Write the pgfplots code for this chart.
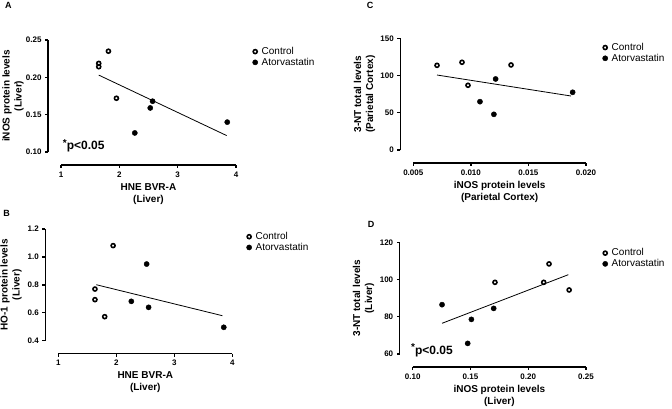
\documentclass[border=0pt]{standalone}
\usepackage{fontspec}
\setmainfont{Liberation Sans}
\usepackage{pgfplots}
\pgfplotsset{compat=1.18}
\pgfplotsset{
  prism/.style={
    scale only axis,
    axis x line=bottom, axis y line=left,
    axis line style={draw=none},
    axis x line shift=13pt,
    axis y line shift=13pt,
    major tick length=0pt,
    minor tick num=0,
    scaled ticks=false,
    tick label style={font=\fontsize{8}{9}\selectfont\bfseries},
    xticklabel style={yshift=-3pt},
    yticklabel style={xshift=-3pt},
    /pgf/number format/assume math mode=true,
    label style={font=\fontsize{10}{12}\selectfont\bfseries, align=center},
    xlabel style={at={(axis description cs:0.5,-0.375)}, anchor=center},
    clip=false,
    legend image code/.code={\path[draw=none,fill=none] (0pt,0pt) -- (9.5pt,0pt); \draw[mark repeat=1,##1] plot coordinates {(5pt,0pt)};},
    legend style={draw=none, fill=none, inner sep=0pt, anchor=north west, row sep=-2pt,
      font=\fontsize{10}{12}\selectfont, cells={anchor=west}},
  },
  ctrl/.style={only marks, mark=o, mark size=2pt, mark options={line width=1.6pt}, black},
  ator/.style={only marks, mark=*, mark size=2.6pt, black},
  fitl/.style={no marks, black, line width=0.8pt, forget plot},
  axl/.style={no marks, black, line width=1.3pt, forget plot},
}
\begin{document}
\begin{tikzpicture}[x=1pt,y=1pt]
\useasboundingbox (0,0) rectangle (672,408);
% Panel A
\begin{axis}[prism, at={(61pt,256pt)}, anchor=south west, width=175pt, height=112pt,
  xmin=1, xmax=4, ymin=0.10, ymax=0.25, xtick={1,2,3,4}, ytick={0.10,0.15,0.20,0.25},
  yticklabel style={/pgf/number format/fixed, /pgf/number format/fixed zerofill, /pgf/number format/precision=2},
  xlabel={HNE BVR-A\\(Liver)}, ylabel={iNOS protein levels\\(Liver)},
  ylabel style={at={(axis description cs:-0.274,0.5)}, anchor=center},
  legend style={at={(1.08,0.955)}}]
\addplot[ctrl] coordinates {(1.647,0.2187) (1.647,0.2142) (1.813,0.235) (1.95,0.172)};
\addplot[ator] coordinates {(2.57,0.168) (2.53,0.159) (2.265,0.1255) (3.85,0.140)};
\addplot[fitl] coordinates {(1.647,0.203) (3.84,0.122)};
\legend{Control,Atorvastatin}
\addplot[axl] coordinates {(1,0.082589) (4,0.082589)};
\addplot[axl] coordinates {(0.77714,0.10) (0.77714,0.25)};
\pgfplotsinvokeforeach{1,2,3,4}{\addplot[axl] coordinates {(#1,0.082589) (#1,0.078571)};}
\pgfplotsinvokeforeach{0.10,0.15,0.20,0.25}{\addplot[axl] coordinates {(0.77714,#1) (0.72571,#1)};}
\node[anchor=base west, font=\bfseries\fontsize{12}{12}\selectfont, inner sep=0pt] at (axis cs:1.03,0.1027) {\raisebox{0.3em}{\fontsize{10}{10}\selectfont *}p<0.05};
\end{axis}
% Panel B
\begin{axis}[prism, at={(58.3pt,67.3pt)}, anchor=south west, width=174pt, height=111.7pt,
  xmin=1, xmax=4, ymin=0.4, ymax=1.2, xtick={1,2,3,4}, ytick={0.4,0.6,0.8,1.0,1.2},
  yticklabel style={/pgf/number format/fixed, /pgf/number format/fixed zerofill, /pgf/number format/precision=1},
  xlabel={HNE BVR-A\\(Liver)}, ylabel={HO-1 protein levels\\(Liver)},
  ylabel style={at={(axis description cs:-0.272,0.5)}, anchor=center},
  legend style={at={(1.067,0.99)}}]
\addplot[ctrl] coordinates {(1.632,0.770) (1.632,0.694) (1.80,0.572) (1.945,1.081)};
\addplot[ator] coordinates {(2.523,0.949) (2.259,0.682) (2.557,0.639) (3.853,0.496)};
\addplot[fitl] coordinates {(1.655,0.801) (3.83,0.579)};
\legend{Control,Atorvastatin}
\addplot[axl] coordinates {(1,0.30689) (4,0.30689)};
\addplot[axl] coordinates {(0.77586,0.4) (0.77586,1.2)};
\pgfplotsinvokeforeach{1,2,3,4}{\addplot[axl] coordinates {(#1,0.30689) (#1,0.28541)};}
\pgfplotsinvokeforeach{0.4,0.6,0.8,1.0,1.2}{\addplot[axl] coordinates {(0.77586,#1) (0.72414,#1)};}
\end{axis}
% Panel C
\begin{axis}[prism, at={(413.3pt,258pt)}, anchor=south west, width=172.7pt, height=111.7pt,
  xmin=0.005, xmax=0.020, ymin=0, ymax=150, xtick={0.005,0.010,0.015,0.020}, ytick={0,50,100,150},
  xticklabel style={/pgf/number format/fixed, /pgf/number format/fixed zerofill, /pgf/number format/precision=3},
  xlabel={iNOS protein levels\\(Parietal Cortex)}, ylabel={3-NT total levels\\(Parietal Cortex)},
  ylabel style={at={(axis description cs:-0.283,0.5)}, anchor=center},
  legend style={at={(1.081,0.976)}}]
\addplot[ctrl] coordinates {(0.00706,113.7) (0.00923,117.8) (0.00975,86.9) (0.01349,114.2)};
\addplot[ator] coordinates {(0.01215,95.4) (0.01079,64.9) (0.0120,47.9) (0.01884,77.5)};
\addplot[fitl] coordinates {(0.00706,100.7) (0.0187,72.5)};
\legend{Control,Atorvastatin}
\addplot[axl] coordinates {(0.005,-17.457) (0.020,-17.457)};
\addplot[axl] coordinates {(0.0038709,0) (0.0038709,150)};
\pgfplotsinvokeforeach{0.005,0.010,0.015,0.020}{\addplot[axl] coordinates {(#1,-17.457) (#1,-21.486)};}
\pgfplotsinvokeforeach{0,50,100,150}{\addplot[axl] coordinates {(0.0038709,#1) (0.0036103,#1)};}
\end{axis}
% Panel D
\begin{axis}[prism, at={(412.7pt,54pt)}, anchor=south west, width=173.3pt, height=111.7pt,
  xmin=0.10, xmax=0.25, ymin=60, ymax=120, xtick={0.10,0.15,0.20,0.25}, ytick={60,80,100,120},
  xticklabel style={/pgf/number format/fixed, /pgf/number format/fixed zerofill, /pgf/number format/precision=2},
  xlabel={iNOS protein levels\\(Liver)}, ylabel={3-NT total levels\\(Liver)},
  ylabel style={at={(axis description cs:-0.283,0.5)}, anchor=center},
  legend style={at={(1.081,0.962)}}]
\addplot[ctrl] coordinates {(0.1712,98.5) (0.2134,98.5) (0.2180,108.4) (0.2354,94.4)};
\addplot[ator] coordinates {(0.1254,86.5) (0.1476,65.7) (0.1508,78.6) (0.1701,84.5)};
\addplot[fitl] coordinates {(0.1254,76.5) (0.2347,102.6)};
\legend{Control,Atorvastatin}
\addplot[axl] coordinates {(0.10,53.017) (0.25,53.017)};
\addplot[axl] coordinates {(0.088748,60) (0.088748,120)};
\pgfplotsinvokeforeach{0.10,0.15,0.20,0.25}{\addplot[axl] coordinates {(#1,53.017) (#1,51.406)};}
\pgfplotsinvokeforeach{60,80,100,120}{\addplot[axl] coordinates {(0.088748,#1) (0.086151,#1)};}
\node[anchor=base west, font=\bfseries\fontsize{12}{12}\selectfont, inner sep=0pt] at (axis cs:0.0985,60) {\raisebox{0.3em}{\fontsize{10}{10}\selectfont *}p<0.05};
\end{axis}
\node[font=\bfseries\fontsize{9}{9}\selectfont] at (8.3,402.5) {A};
\node[font=\bfseries\fontsize{9}{9}\selectfont] at (6.7,195) {B};
\node[font=\bfseries\fontsize{9}{9}\selectfont] at (370,403) {C};
\node[font=\bfseries\fontsize{9}{9}\selectfont] at (371,183.3) {D};
\end{tikzpicture}
\end{document}
